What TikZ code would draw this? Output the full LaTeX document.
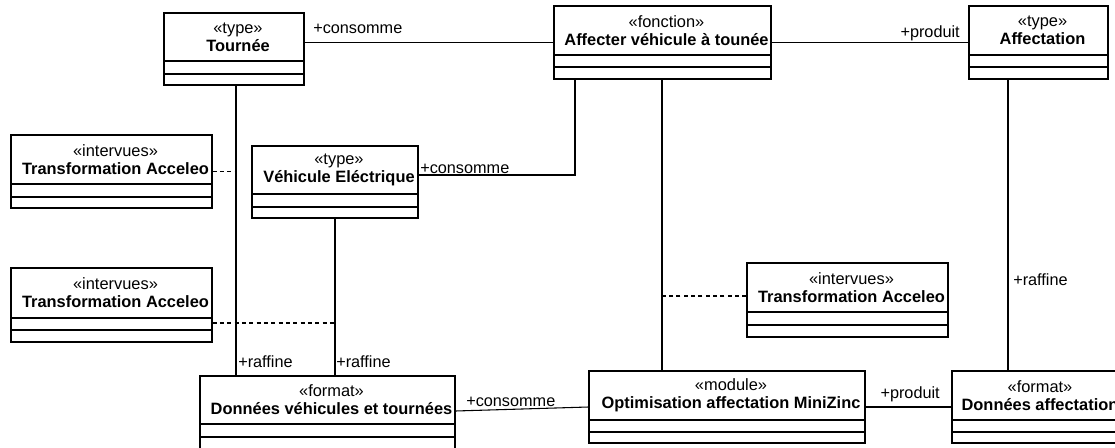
\documentclass[tikz,border=0pt]{standalone}
\usepackage{fontspec}
\setmainfont{Liberation Sans}
\usetikzlibrary{positioning}

\tikzset{
  classbox/.style={draw, rectangle, inner sep=0pt, line width=0.8pt},
  classtitle/.style={align=center, inner sep=0pt, xshift=3pt, font=\fontsize{12.3}{13.5}\selectfont},
  assoc/.style={line width=0.8pt},
  depend/.style={line width=0.8pt, dash pattern=on 3pt off 2.5pt},
  role/.style={inner sep=0pt, font=\fontsize{12.2}{14}\selectfont},
}

% name, left, top, right, bottom, header bottom, divider, stereotype, title
\newcommand{\umlclass}[9]{%
  \node[classbox, minimum width={(#4-#2)*0.75pt}, minimum height={(#5-#3)*0.75pt}]
    (#1) at ({(#2+#4)/2},{(#3+#5)/2}) {};
  \draw[assoc] (#2,#6) -- (#4,#6) (#2,#7) -- (#4,#7);
  \node[classtitle] (#1-title) at ({(#2+#4)/2},{(#3+#6)/2}) {«#8»\\\textbf{#9}};
}

\begin{document}
\begin{tikzpicture}[x=0.75pt,y=-0.75pt]
  \useasboundingbox (0,0) rectangle (1115,447);
  \clip (0,0) rectangle (1115,447);

  \umlclass{tournee}{164}{13}{304}{85}{61}{74}{type}{Tournée}
  \umlclass{affecter}{554}{6}{771}{79}{55}{67}{fonction}{Affecter véhicule à tounée}
  \umlclass{affectation}{969}{6}{1108}{79}{55}{67}{type}{Affectation}
  \umlclass{vehicule}{252}{146}{418}{218}{194}{207}{type}{Véhicule Eléctrique}
  \umlclass{acceleoA}{11}{135}{212}{208}{184}{197}{intervues}{Transformation Acceleo}
  \umlclass{acceleoB}{11}{268}{212}{342}{318}{330}{intervues}{Transformation Acceleo}
  \umlclass{acceleoC}{747}{263}{948}{337}{312}{325}{intervues}{Transformation Acceleo}
  \umlclass{donneesVT}{200}{376}{455}{452}{424}{437}{format}{Données véhicules et tournées}
  \umlclass{optim}{589}{371}{865}{443}{420}{432}{module}{Optimisation affectation MiniZinc}
  \umlclass{donneesAff}{952}{371}{1120}{443}{420}{432}{format}{Données affectation}

  % associations
  \draw[assoc] (tournee.east |- affecter.west) -- (affecter.west);
  \draw[assoc] (affecter.east) -- (affectation.west);
  \draw[assoc] (affecter.south -| 575,0) |- (vehicule.east |- 0,175);
  \draw[assoc] (affecter.south -| 662,0) -- coordinate[pos=0.5] (midF) (optim.north -| 662,0);
  \draw[assoc] (tournee.south -| 236,0) -- coordinate[pos=0.5] (midT) (donneesVT.north -| 236,0);
  \draw[assoc] (vehicule.south) -- coordinate[pos=0.5] (midV) (donneesVT.north -| vehicule.south);
  \draw[assoc] (affectation.south -| 1008,0) -- (donneesAff.north -| 1008,0);
  \draw[assoc] (donneesVT.east |- 0,411) -- (optim.west |- 0,407);
  \draw[assoc] (optim.east) -- (optim.east -| donneesAff.west);

  % dependencies
  \draw[depend] (acceleoA.east) -| (midT);
  \draw[depend] (acceleoB.east |- 0,323) -| (midV);
  \draw[depend] (acceleoC.west |- 0,296) -| (midF);

  % role labels
  \node[role, anchor=base west] (lblConsT) at (313,33) {+consomme};
  \node[role, anchor=base east] (lblProdA) at (960,37) {+produit};
  \node[role, anchor=base west] (lblConsV) at (420,173) {+consomme};
  \node[role, anchor=base west] (lblRafT) at (238,367) {+raffine};
  \node[role, anchor=base west] (lblRafV) at (336,367) {+raffine};
  \node[role, anchor=base west] (lblRafA) at (1013,285) {+raffine};
  \node[role, anchor=base west] (lblConsD) at (466,406) {+consomme};
  \node[role, anchor=base east] (lblProdO) at (940,398) {+produit};
\end{tikzpicture}
\end{document}
